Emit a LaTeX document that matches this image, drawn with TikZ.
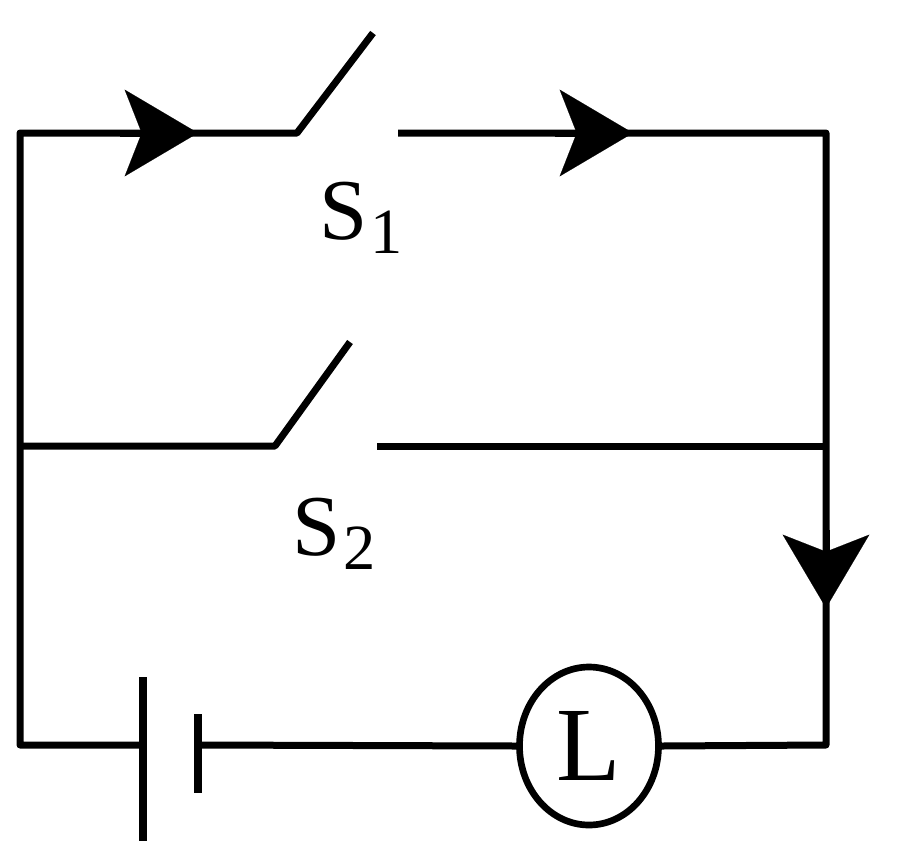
\documentclass[tikz,border=0pt]{standalone}
\usepackage{fontspec}
\usepackage{tikz}
\usetikzlibrary{arrows.meta, positioning, shapes.geometric}
\newfontfamily\labelfont{Liberation Serif}

\tikzset{
    wire/.style={line width=2.1mm, line cap=butt, line join=round},
    plate/.style={line width=2.6mm, line cap=butt},
    flow/.style={-{Stealth[length=22mm, width=26mm, inset=5.1mm, line width=0.1pt]}},
    swlabel/.style={font=\labelfont\fontsize{74}{76}\selectfont, inner sep=0pt, anchor=base west},
    lampbox/.style={draw, ellipse, line width=2mm, inner sep=0pt, minimum width=41.7mm, minimum height=47.4mm, font=\labelfont\fontsize{90}{92}\selectfont}
}
\newcommand{\swsub}[1]{\hspace{3pt}\raisebox{-0.17em}{\fontsize{55}{57}\selectfont #1}}

\begin{document}
\begin{tikzpicture}[x=0.3mm, y=-0.3mm]
    \useasboundingbox (0,0) rectangle (900,866);

    \coordinate (tl) at (20,133);
    \coordinate (tr) at (826,133);
    \coordinate (ml) at (20,446);
    \coordinate (mr) at (826,446);
    \coordinate (bl) at (20,745);
    \coordinate (br) at (826,745);

    \coordinate (s1pivot) at (297,133);
    \coordinate (s1blade) at (373,33);
    \coordinate (s1end) at (398,133);
    \coordinate (s2pivot) at (275,446);
    \coordinate (s2blade) at (350,342);
    \coordinate (s2end) at (377,446);

    \coordinate (a1) at (198,133);
    \coordinate (a1back) at (120,133);
    \coordinate (a2) at (633,133);
    \coordinate (a2back) at (555,133);
    \coordinate (a3) at (826,608);
    \coordinate (a3back) at (826,530);

    \coordinate (blong) at (143,745);
    \coordinate (blongtop) at (143,677);
    \coordinate (blongbot) at (143,841);
    \coordinate (bshort) at (198,745);
    \coordinate (bshorttop) at (198,714);
    \coordinate (bshortbot) at (198,793);

    \node[swlabel] (s1label) at (319,239) {S\swsub{1}};
    \node[swlabel] (s2label) at (292,555) {S\swsub{2}};
    \node[lampbox] (lamp) at (589,746) {L};

    \draw[wire] (blong) -- (bl) -- (tl) -- (s1pivot) -- (s1blade);
    \draw[wire] (s1end) -- (tr) -- (br) -- (lamp.east);
    \draw[wire] (lamp.west) -- (bshort);
    \draw[wire] (ml) -- (s2pivot) -- (s2blade);
    \draw[wire] (s2end) -- (mr);

    \draw[wire, flow] (a1back) -- (a1);
    \draw[wire, flow] (a2back) -- (a2);
    \draw[wire, flow] (a3back) -- (a3);

    \draw[plate] (blongtop) -- (blongbot);
    \draw[plate] (bshorttop) -- (bshortbot);
\end{tikzpicture}
\end{document}
